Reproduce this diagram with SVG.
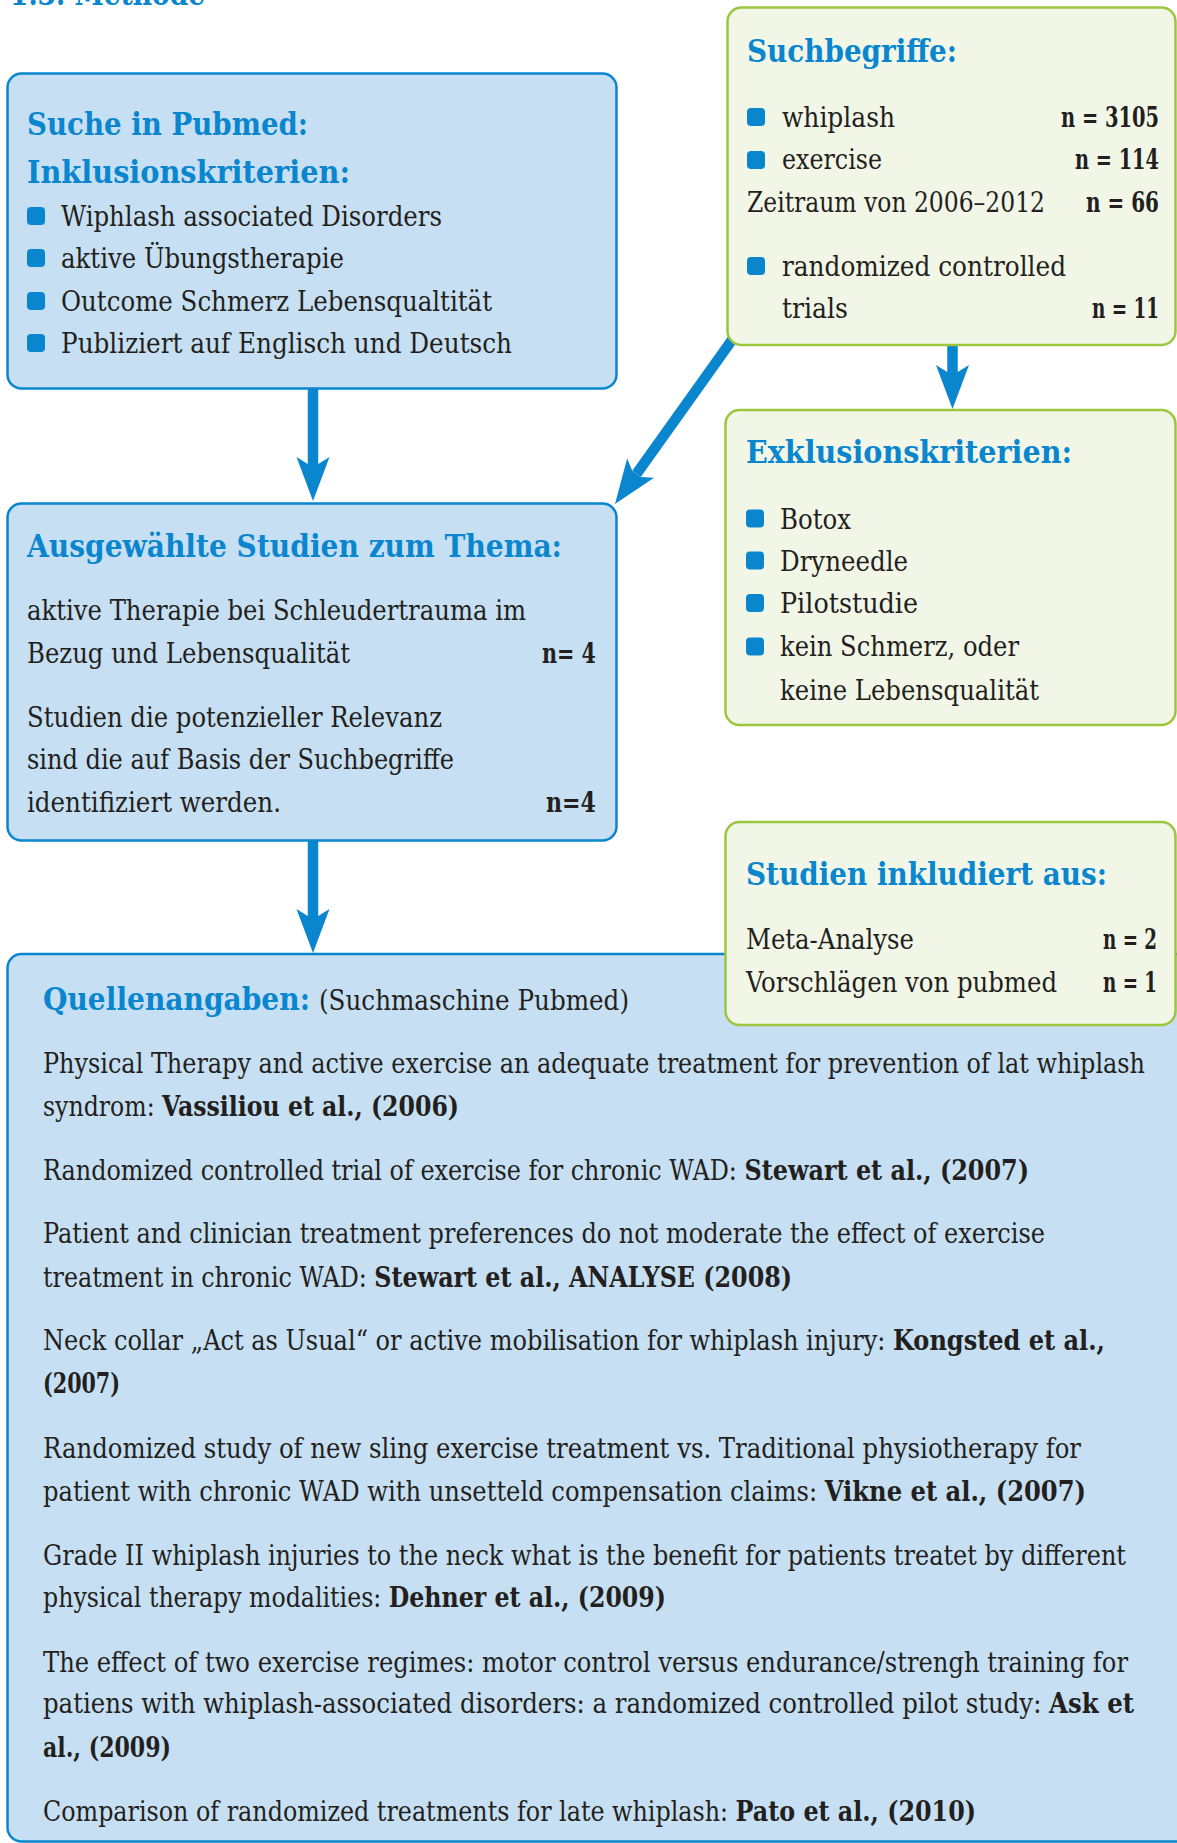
<svg xmlns="http://www.w3.org/2000/svg" width="1177" height="1843" viewBox="0 0 1177 1843">
<style>
text{font-family:'DejaVu Serif Condensed','DejaVu Serif','Liberation Serif',serif;font-stretch:condensed;fill:#231f20;font-size:27px}
.h{font-weight:bold;fill:#0a86cf;font-size:31px}
.n{font-weight:bold;text-anchor:end}
.bl{fill:#0a86cf}
.boxB{fill:#c6dff2;stroke:#0a86cf;stroke-width:2.5}
.boxG{fill:#f1f6e7;stroke:#9cc63c;stroke-width:2.5}
.con{fill:none;stroke:#0a86cf;stroke-width:10.5;marker-end:url(#ah)}
</style>
<defs>
<marker id="ah" viewBox="-8 -17 46 34" markerWidth="46" markerHeight="34" refX="0" refY="0" orient="auto" markerUnits="userSpaceOnUse">
<path d="M0,-5.25 L-7,-16.5 L37,0 L-7,16.5 L0,5.25 Z" fill="#0a86cf"/>
</marker>
</defs>
<rect width="1177" height="1843" fill="#ffffff"/>
<g id="heading">
<text class="h" x="10" y="5" textLength="195" lengthAdjust="spacingAndGlyphs">1.3. Methode</text>
</g>
<g id="connectors">
<path class="con" d="M313 388 V464"/>
<path class="con" d="M952.5 345 V372"/>
<path class="con" d="M732 340 L636.5 473.9"/>
<path class="con" d="M313 841 V916"/>
</g>
<g id="suche">
<rect class="boxB" x="7.5" y="73.5" width="609" height="315" rx="14"/>
<text class="h" x="27" y="135" textLength="281" lengthAdjust="spacingAndGlyphs">Suche in Pubmed:</text>
<text class="h" x="27" y="183" textLength="323" lengthAdjust="spacingAndGlyphs">Inklusionskriterien:</text>
<rect class="bl" x="27" y="207" width="18" height="18" rx="4"/>
<rect class="bl" x="27" y="249" width="18" height="18" rx="4"/>
<rect class="bl" x="27" y="292" width="18" height="18" rx="4"/>
<rect class="bl" x="27" y="334" width="18" height="18" rx="4"/>
<text x="61" y="226" textLength="381" lengthAdjust="spacingAndGlyphs">Wiphlash associated Disorders</text>
<text x="61" y="268" textLength="283" lengthAdjust="spacingAndGlyphs">aktive Übungstherapie</text>
<text x="61" y="311" textLength="431" lengthAdjust="spacingAndGlyphs">Outcome Schmerz Lebensqualtität</text>
<text x="61" y="353" textLength="451" lengthAdjust="spacingAndGlyphs">Publiziert auf Englisch und Deutsch</text>
</g>
<g id="suchbegriffe">
<rect class="boxG" x="727.5" y="7.5" width="448" height="337.5" rx="14"/>
<text class="h" x="747" y="62" textLength="210" lengthAdjust="spacingAndGlyphs">Suchbegriffe:</text>
<rect class="bl" x="747" y="108" width="18" height="18" rx="4"/>
<rect class="bl" x="747" y="151" width="18" height="18" rx="4"/>
<rect class="bl" x="747" y="257" width="18" height="18" rx="4"/>
<text x="782" y="127" textLength="113" lengthAdjust="spacingAndGlyphs">whiplash</text>
<text class="n" x="1159" y="127" textLength="98" lengthAdjust="spacingAndGlyphs">n = 3105</text>
<text x="782" y="169" textLength="100" lengthAdjust="spacingAndGlyphs">exercise</text>
<text class="n" x="1159" y="169" textLength="84" lengthAdjust="spacingAndGlyphs">n = 114</text>
<text x="747" y="212" textLength="298" lengthAdjust="spacingAndGlyphs">Zeitraum von 2006–2012</text>
<text class="n" x="1159" y="212" textLength="73" lengthAdjust="spacingAndGlyphs">n = 66</text>
<text x="782" y="276" textLength="284" lengthAdjust="spacingAndGlyphs">randomized controlled</text>
<text x="782" y="318" textLength="66" lengthAdjust="spacingAndGlyphs">trials</text>
<text class="n" x="1159" y="318" textLength="67" lengthAdjust="spacingAndGlyphs">n = 11</text>
</g>
<g id="ausgewaehlt">
<rect class="boxB" x="7.5" y="503.5" width="609" height="337" rx="14"/>
<text class="h" x="27" y="557" textLength="535" lengthAdjust="spacingAndGlyphs">Ausgewählte Studien zum Thema:</text>
<text x="27" y="620" textLength="499" lengthAdjust="spacingAndGlyphs">aktive Therapie bei Schleudertrauma im</text>
<text x="27" y="663" textLength="323" lengthAdjust="spacingAndGlyphs">Bezug und Lebensqualität</text>
<text class="n" x="596" y="663" textLength="54" lengthAdjust="spacingAndGlyphs">n= 4</text>
<text x="27" y="727" textLength="415" lengthAdjust="spacingAndGlyphs">Studien die potenzieller Relevanz</text>
<text x="27" y="769" textLength="427" lengthAdjust="spacingAndGlyphs">sind die auf Basis der Suchbegriffe</text>
<text x="27" y="812" textLength="254" lengthAdjust="spacingAndGlyphs">identifiziert werden.</text>
<text class="n" x="596" y="812" textLength="50" lengthAdjust="spacingAndGlyphs">n=4</text>
</g>
<g id="exklusion">
<rect class="boxG" x="725.5" y="410" width="450" height="315" rx="14"/>
<text class="h" x="746" y="463" textLength="326" lengthAdjust="spacingAndGlyphs">Exklusionskriterien:</text>
<rect class="bl" x="746" y="509.5" width="18" height="18" rx="4"/>
<rect class="bl" x="746" y="551.5" width="18" height="18" rx="4"/>
<rect class="bl" x="746" y="594" width="18" height="18" rx="4"/>
<rect class="bl" x="746" y="637.5" width="18" height="18" rx="4"/>
<text x="780" y="529" textLength="71" lengthAdjust="spacingAndGlyphs">Botox</text>
<text x="780" y="571" textLength="128" lengthAdjust="spacingAndGlyphs">Dryneedle</text>
<text x="780" y="613" textLength="138" lengthAdjust="spacingAndGlyphs">Pilotstudie</text>
<text x="780" y="656" textLength="239" lengthAdjust="spacingAndGlyphs">kein Schmerz, oder</text>
<text x="780" y="700" textLength="259" lengthAdjust="spacingAndGlyphs">keine Lebensqualität</text>
</g>
<g id="quellen">
<rect class="boxB" x="7.5" y="954" width="1190" height="887.5" rx="14"/>
<text class="h" x="43" y="1010" textLength="267" lengthAdjust="spacingAndGlyphs">Quellenangaben:</text>
<text x="319" y="1010" textLength="310" lengthAdjust="spacingAndGlyphs">(Suchmaschine Pubmed)</text>
<text x="43" y="1073" textLength="1102" lengthAdjust="spacingAndGlyphs">Physical Therapy and active exercise an adequate treatment for prevention of lat whiplash</text>
<text x="43" y="1116" textLength="416" lengthAdjust="spacingAndGlyphs">syndrom: <tspan font-weight="bold">Vassiliou et al., (2006)</tspan></text>
<text x="43" y="1180" textLength="986" lengthAdjust="spacingAndGlyphs">Randomized controlled trial of exercise for chronic WAD: <tspan font-weight="bold">Stewart et al., (2007)</tspan></text>
<text x="43" y="1243" textLength="1002" lengthAdjust="spacingAndGlyphs">Patient and clinician treatment preferences do not moderate the effect of exercise</text>
<text x="43" y="1287" textLength="749" lengthAdjust="spacingAndGlyphs">treatment in chronic WAD: <tspan font-weight="bold">Stewart et al., ANALYSE (2008)</tspan></text>
<text x="43" y="1350" textLength="1062" lengthAdjust="spacingAndGlyphs">Neck collar „Act as Usual“ or active mobilisation for whiplash injury: <tspan font-weight="bold">Kongsted et al.,</tspan></text>
<text x="43" y="1393" textLength="77" lengthAdjust="spacingAndGlyphs" font-weight="bold">(2007)</text>
<text x="43" y="1458" textLength="1038" lengthAdjust="spacingAndGlyphs">Randomized study of new sling exercise treatment vs. Traditional physiotherapy for</text>
<text x="43" y="1501" textLength="1043" lengthAdjust="spacingAndGlyphs">patient with chronic WAD with unsetteld compensation claims: <tspan font-weight="bold">Vikne et al., (2007)</tspan></text>
<text x="43" y="1565" textLength="1083" lengthAdjust="spacingAndGlyphs">Grade II whiplash injuries to the neck what is the benefit for patients treatet by different</text>
<text x="43" y="1607" textLength="623" lengthAdjust="spacingAndGlyphs">physical therapy modalities: <tspan font-weight="bold">Dehner et al., (2009)</tspan></text>
<text x="43" y="1672" textLength="1085" lengthAdjust="spacingAndGlyphs">The effect of two exercise regimes: motor control versus endurance/strengh training for</text>
<text x="43" y="1713" textLength="1091" lengthAdjust="spacingAndGlyphs">patiens with whiplash-associated disorders: a randomized controlled pilot study: <tspan font-weight="bold">Ask et</tspan></text>
<text x="43" y="1757" textLength="128" lengthAdjust="spacingAndGlyphs" font-weight="bold">al., (2009)</text>
<text x="43" y="1821" textLength="933" lengthAdjust="spacingAndGlyphs">Comparison of randomized treatments for late whiplash: <tspan font-weight="bold">Pato et al., (2010)</tspan></text>
</g>
<g id="inkludiert">
<rect class="boxG" x="725.5" y="822" width="450" height="203" rx="14"/>
<text class="h" x="746" y="885" textLength="361" lengthAdjust="spacingAndGlyphs">Studien inkludiert aus:</text>
<text x="746" y="949" textLength="168" lengthAdjust="spacingAndGlyphs">Meta-Analyse</text>
<text class="n" x="1157" y="949" textLength="54" lengthAdjust="spacingAndGlyphs">n = 2</text>
<text x="746" y="992" textLength="311" lengthAdjust="spacingAndGlyphs">Vorschlägen von pubmed</text>
<text class="n" x="1157" y="992" textLength="54" lengthAdjust="spacingAndGlyphs">n = 1</text>
</g>
</svg>
